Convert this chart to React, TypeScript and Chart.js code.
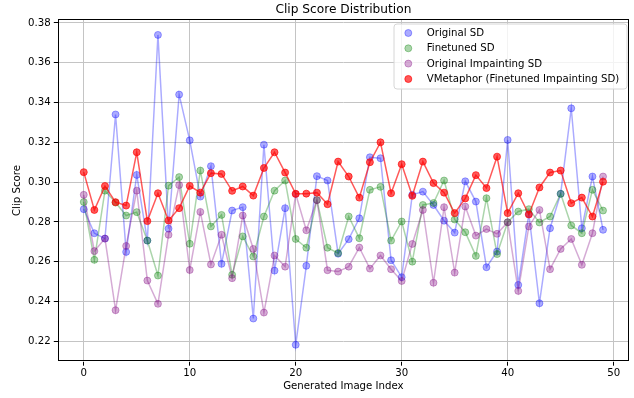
import React, { useEffect, useRef } from "react";
import { Chart, registerables } from "chart.js";
Chart.register(...registerables);

const TITLE = "Clip Score Distribution";
const X_LABEL = "Generated Image Index";
const Y_LABEL = "Clip Score";
const SERIES_NAMES = ["Original SD", "Finetuned SD", "Original Impainting SD", "VMetaphor (Finetuned Impainting SD)"];

const imageIndex = [
  0, 1, 2, 3, 4, 5, 6, 7, 8, 9, 10, 11, 12, 13, 14, 15, 16, 17, 18, 19, 20, 21, 22, 23, 24,
  25, 26, 27, 28, 29, 30, 31, 32, 33, 34, 35, 36, 37, 38, 39, 40, 41, 42, 43, 44, 45, 46, 47, 48, 49,
];

const originalSD = [
  0.2864, 0.2743, 0.2716, 0.334, 0.2649, 0.3036, 0.2706, 0.374, 0.2766, 0.344,
  0.321, 0.2927, 0.308, 0.2589, 0.2857, 0.2874, 0.2314, 0.3188, 0.2555, 0.2869,
  0.2182, 0.2579, 0.303, 0.3008, 0.264, 0.2713, 0.2818, 0.3125, 0.312, 0.2607,
  0.2522, 0.2936, 0.2952, 0.2885, 0.2806, 0.2746, 0.3004, 0.2902, 0.2572, 0.2651,
  0.3212, 0.2483, 0.284, 0.2391, 0.2768, 0.2941, 0.3371, 0.2768, 0.3028, 0.276,
];

const finetunedSD = [
  0.29, 0.2609, 0.2957, 0.2897, 0.2832, 0.2849, 0.2706, 0.253, 0.2982, 0.3025,
  0.269, 0.3058, 0.2777, 0.2835, 0.2534, 0.2727, 0.2626, 0.2827, 0.2957, 0.3008,
  0.2714, 0.267, 0.291, 0.267, 0.2643, 0.2827, 0.2718, 0.2961, 0.2976, 0.2706,
  0.2802, 0.26, 0.2885, 0.2895, 0.3008, 0.2812, 0.2748, 0.2629, 0.2919, 0.2638,
  0.2798, 0.2852, 0.2864, 0.2797, 0.2827, 0.2941, 0.2782, 0.2743, 0.2961, 0.2857,
];

const originalInpaintingSD = [
  0.2936, 0.2653, 0.2716, 0.2356, 0.2679, 0.2957, 0.2505, 0.2388, 0.2735, 0.2985,
  0.2558, 0.285, 0.2586, 0.2735, 0.2517, 0.2832, 0.2664, 0.2344, 0.2631, 0.2575,
  0.294, 0.2758, 0.2909, 0.2557, 0.255, 0.2575, 0.2671, 0.2565, 0.2631, 0.2562,
  0.2503, 0.2689, 0.286, 0.2494, 0.2874, 0.2545, 0.2877, 0.2731, 0.2764, 0.274,
  0.2798, 0.2453, 0.2777, 0.286, 0.2562, 0.2664, 0.2714, 0.2584, 0.2743, 0.3028,
];

const vmetaphor = [
  0.305, 0.286, 0.298, 0.2899, 0.2882, 0.315, 0.2804, 0.2944, 0.2807, 0.2869,
  0.2981, 0.2947, 0.3045, 0.3041, 0.2956, 0.2978, 0.2932, 0.3071, 0.315, 0.3048,
  0.2941, 0.2942, 0.2947, 0.2889, 0.3103, 0.3028, 0.2922, 0.31, 0.32, 0.2944,
  0.309, 0.2931, 0.3103, 0.2995, 0.2947, 0.2844, 0.2918, 0.3035, 0.297, 0.3128,
  0.2844, 0.2944, 0.2837, 0.2973, 0.3048, 0.3058, 0.2894, 0.2922, 0.2827, 0.3002,
];

const COLORS = [
  "rgba(0,0,255,0.33)",
  "rgba(0,128,0,0.33)",
  "rgba(128,0,128,0.33)",
  "rgba(255,0,0,0.65)",
];

const FONT = '"DejaVu Sans", sans-serif';

const decorPlugin = {
  id: "decor",
  afterDraw(chart: any) {
    const { ctx, chartArea: a } = chart;
    ctx.save();
    // frame
    ctx.strokeStyle = "#000";
    ctx.lineWidth = 1;
    ctx.strokeRect(Math.round(a.left) + 0.5, Math.round(a.top) + 0.5, Math.round(a.right - a.left) - 1, Math.round(a.bottom - a.top) - 1);
    // title
    ctx.fillStyle = "#000";
    ctx.textAlign = "center";
    ctx.textBaseline = "middle";
    ctx.font = `12.2px ${FONT}`;
    ctx.fillText(TITLE, (a.left + a.right) / 2, 9.5);
    ctx.font = `10.2px ${FONT}`;
    ctx.fillText(X_LABEL, (a.left + a.right) / 2, 386);
    ctx.save();
    ctx.translate(17, (a.top + a.bottom) / 2);
    ctx.rotate(-Math.PI / 2);
    ctx.fillText(Y_LABEL, 0, 0);
    ctx.restore();
    // legend
    const bx = 394, by = 24, bw = 233, bh = 65, r = 3;
    ctx.beginPath();
    ctx.moveTo(bx + r, by);
    ctx.lineTo(bx + bw - r, by);
    ctx.quadraticCurveTo(bx + bw, by, bx + bw, by + r);
    ctx.lineTo(bx + bw, by + bh - r);
    ctx.quadraticCurveTo(bx + bw, by + bh, bx + bw - r, by + bh);
    ctx.lineTo(bx + r, by + bh);
    ctx.quadraticCurveTo(bx, by + bh, bx, by + bh - r);
    ctx.lineTo(bx, by + r);
    ctx.quadraticCurveTo(bx, by, bx + r, by);
    ctx.closePath();
    ctx.fillStyle = "rgba(255,255,255,0.8)";
    ctx.fill();
    ctx.strokeStyle = "#d6d6d6";
    ctx.lineWidth = 1;
    ctx.stroke();
    ctx.textAlign = "left";
    ctx.font = `10.2px ${FONT}`;
    const rows = [33, 48.3, 63.6, 79];
    SERIES_NAMES.forEach((name, i) => {
      ctx.beginPath();
      ctx.arc(408.3, rows[i], 3.5, 0, Math.PI * 2);
      ctx.fillStyle = COLORS[i];
      ctx.fill();
      ctx.strokeStyle = COLORS[i];
      ctx.lineWidth = 1;
      ctx.stroke();
      ctx.fillStyle = "#000";
      ctx.fillText(name, 426.7, rows[i] + 0.5);
    });
    ctx.restore();
  },
};

export default function App() {
  const ref = useRef<HTMLCanvasElement>(null);
  useEffect(() => {
    document.body.style.margin = "0";
    const seriesData = [originalSD, finetunedSD, originalInpaintingSD, vmetaphor];
    const chart = new Chart(ref.current!, {
      type: "line",
      data: {
        datasets: seriesData.map((vals, s) => ({
          label: SERIES_NAMES[s],
          data: imageIndex.map((x, i) => ({ x, y: vals[i] })),
          borderColor: COLORS[s],
          backgroundColor: COLORS[s],
          pointBackgroundColor: COLORS[s],
          pointBorderColor: COLORS[s],
          pointBorderWidth: 1,
          pointRadius: 3.5,
          borderWidth: 1.5,
          tension: 0,
          fill: false,
          order: 4 - s,
        })),
      },
      options: {
        responsive: false,
        animation: false,
        layout: { padding: { top: 19.4, right: 5, left: 0, bottom: 0 } },
        plugins: { legend: { display: false }, title: { display: false }, tooltip: { enabled: false } },
        scales: {
          x: {
            type: "linear",
            min: -2.45,
            max: 51.45,
            afterFit: (s: any) => { s.height = 36.3; },
            border: { display: false },
            grid: { color: "#c4c4c4", lineWidth: 1, tickLength: 4, tickColor: "#000" },
            ticks: {
              stepSize: 10,
              includeBounds: false,
              color: "#000",
              padding: 2,
              maxRotation: 0,
              font: { family: FONT, size: 10.2 },
              callback: (v: any) => String(Math.round(v)),
            },
          },
          y: {
            type: "linear",
            min: 0.2097,
            max: 0.3818,
            afterFit: (s: any) => { s.width = 57.8; },
            border: { display: false },
            grid: { color: "#c4c4c4", lineWidth: 1, tickLength: 4, tickColor: "#000" },
            ticks: {
              stepSize: 0.02,
              includeBounds: false,
              color: "#000",
              padding: 3,
              font: { family: FONT, size: 10.2 },
              callback: (v: any) => Number(v).toFixed(2),
            },
          },
        },
      },
      plugins: [decorPlugin],
    } as any);
    return () => chart.destroy();
  }, []);
  return (
    <div style={{ position: "absolute", left: 0, top: 0, width: 634, height: 398 }}>
      <canvas ref={ref} width={634} height={398} style={{ display: "block", width: 634, height: 398 }} />
    </div>
  );
}
